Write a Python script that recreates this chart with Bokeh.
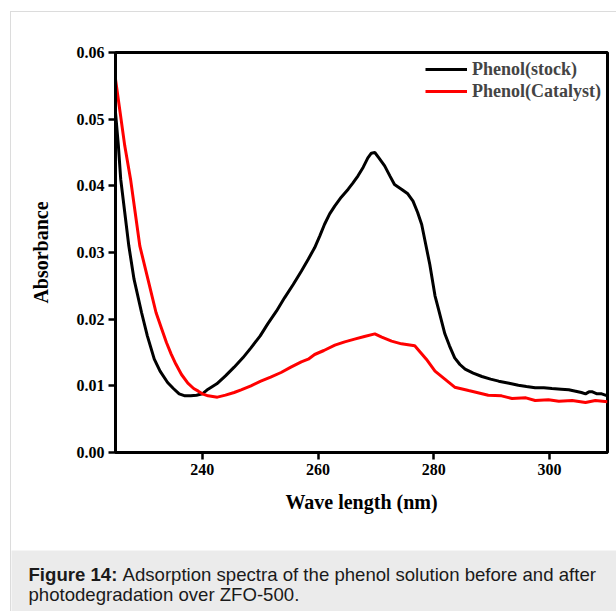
from bokeh.plotting import figure
from bokeh.models import (Legend, LegendItem, Label, FixedTicker,
                          NumeralTickFormatter, Range1d, Spacer)
from bokeh.layouts import column, row
from bokeh.embed import file_html
from bokeh.resources import INLINE

# ---- data ----
stock_wl = [225, 225.5, 225.9, 226.6, 227.3, 228.2, 229.5, 230.5, 231.7, 232.7, 234, 235, 236, 237, 238, 239,
            240, 241, 242.5, 244, 245.5, 247, 248.4, 250, 251.3, 252.8, 254.2, 255.7, 257.1, 258.3, 259.4,
            260.3, 261.1, 262, 262.9, 264, 265.2, 266, 266.9, 267.8, 268.6, 269.2, 269.8, 270.5, 271.5,
            272.4, 273.2, 274.4, 275.5, 276.4, 277.2, 277.9, 278.6, 279.3, 280.2, 280.8, 281.9, 282.7,
            283.6, 284.5, 285.4, 286.8, 288.3, 289.8, 291.2, 293, 294.6, 296, 297.5, 299, 300.4, 302,
            303.3, 304.5, 305.5, 306.2, 306.8, 307.4, 308.2, 309, 310]
stock_abs = [0.051, 0.046, 0.041, 0.036, 0.031, 0.026, 0.021, 0.0175, 0.014, 0.0122, 0.0105, 0.0096, 0.0088,
             0.0085, 0.0085, 0.0086, 0.0088, 0.0095, 0.0103, 0.0115, 0.0128, 0.0142, 0.0157, 0.0175, 0.0193,
             0.0212, 0.0232, 0.0252, 0.0272, 0.029, 0.0307, 0.0325, 0.0342, 0.0358, 0.037, 0.0383, 0.0395,
             0.0404, 0.0415, 0.0428, 0.0442, 0.0449, 0.045, 0.0442, 0.043, 0.0415, 0.0402, 0.0395, 0.0388,
             0.0377, 0.036, 0.0342, 0.0312, 0.0282, 0.0235, 0.0215, 0.0178, 0.016, 0.0142, 0.0132, 0.0125,
             0.0119, 0.0114, 0.011, 0.0107, 0.0104, 0.0101, 0.0099, 0.0097, 0.0097, 0.0096, 0.0095, 0.0094,
             0.0092, 0.009, 0.0088, 0.0091, 0.0091, 0.0088, 0.0088, 0.0085]

cat_wl = [225, 225.8, 226.6, 227.6, 228.4, 229.2, 230.6, 232.0, 233.0, 233.8, 234.6, 235.4, 236.4, 237.5,
          238.5, 239.3, 240, 241, 242.6, 244, 245.5, 246.7, 248.4, 250.1, 251.8, 253.6, 255.3, 257.1, 258.3,
          259.4, 261, 262.9, 264.6, 266.3, 268, 269.8, 271, 272.7, 274.4, 276.7, 277.7, 278.7, 280.2, 281.9,
          283.6, 286, 289.4, 291.7, 293.5, 295.9, 297.5, 299.8, 301.6, 303.9, 306.2, 307.9, 310]
cat_abs = [0.056, 0.051, 0.046, 0.041, 0.036, 0.031, 0.026, 0.021, 0.0185, 0.0165, 0.0148, 0.0133, 0.0117,
           0.0104, 0.0096, 0.0092, 0.0088, 0.0085, 0.0083, 0.0086, 0.009, 0.0094, 0.01, 0.0107, 0.0113, 0.012,
           0.0128, 0.0136, 0.014, 0.0147, 0.0153, 0.0161, 0.0166, 0.017, 0.0174, 0.0178, 0.0173, 0.0167,
           0.0163, 0.016, 0.015, 0.014, 0.0122, 0.011, 0.0098, 0.0093, 0.0086, 0.0085, 0.0081, 0.0082,
           0.0078, 0.0079, 0.0077, 0.0078, 0.0075, 0.0078, 0.0076]

x_ticks = [240, 260, 280, 300]
y_ticks = [0.00, 0.01, 0.02, 0.03, 0.04, 0.05, 0.06]
series_names = ["Phenol(stock)", "Phenol(Catalyst)"]
caption_bold = "Figure 14:"
caption_line1 = "Adsorption spectra of the phenol solution before and after"
caption_line2 = "photodegradation over ZFO-500."

# main chart (placed at x=11, y=12 of the page)
p = figure(width=605, height=538, output_backend="svg", toolbar_location=None,
           x_range=Range1d(225, 310), y_range=Range1d(0, 0.06),
           min_border_left=104, min_border_right=9, min_border_top=40, min_border_bottom=98)
p.grid.visible = False
p.background_fill_color = "white"
p.border_fill_color = "white"
p.outline_line_color = "black"
p.outline_line_width = 3

FONT = "Liberation Serif"
for ax in (p.xaxis[0], p.yaxis[0]):
    ax.axis_line_width = 3
    ax.major_tick_line_width = 2.5
    ax.major_tick_in = 0
    ax.major_tick_out = 7
    ax.minor_tick_line_color = None
    ax.major_label_text_font = FONT
    ax.major_label_text_font_style = "bold"
    ax.major_label_text_font_size = "16px"
    ax.major_label_text_color = "black"
    ax.axis_label_text_font = FONT
    ax.axis_label_text_font_style = "bold"
    ax.axis_label_text_font_size = "20px"
    ax.axis_label_text_color = "black"

p.xaxis.ticker = FixedTicker(ticks=x_ticks)
p.yaxis.ticker = FixedTicker(ticks=y_ticks)
p.yaxis.formatter = NumeralTickFormatter(format="0.00")
p.xaxis.axis_label = "Wave length (nm)"
p.yaxis.axis_label = "Absorbance"
p.xaxis.major_label_standoff = 4
p.xaxis.axis_label_standoff = 13
p.yaxis.major_label_standoff = 4
p.yaxis.axis_label_standoff = 22

r1 = p.line(stock_wl, stock_abs, line_color="black", line_width=3)
r2 = p.line(cat_wl, cat_abs, line_color="#ff0000", line_width=3)

legend = Legend(items=[LegendItem(label=series_names[0], renderers=[r1]),
                       LegendItem(label=series_names[1], renderers=[r2])],
                location="top_right")
legend.label_text_font = FONT
legend.label_text_font_style = "bold"
legend.label_text_font_size = "18px"
legend.glyph_width = 42
legend.label_standoff = 5
legend.spacing = 0
legend.padding = 3
legend.margin = 3
legend.border_line_alpha = 0
legend.background_fill_alpha = 0
legend.label_height = 22
legend.glyph_height = 22
p.add_layout(legend)

# caption band; x/y data = pixels inside the band
cap = figure(width=605, height=61, output_backend="svg", toolbar_location=None,
             x_range=Range1d(0, 605), y_range=Range1d(61, 0),
             min_border=0, x_axis_type=None, y_axis_type=None)
cap.grid.visible = False
cap.outline_line_color = None
cap.background_fill_color = "#ebebeb"
cap.border_fill_color = "#ebebeb"

CAP = "Liberation Sans"
CAP_SIZE = "18.6px"
cap.add_layout(Label(x=17, y=23.5, text=caption_bold, text_font=CAP, text_font_style="bold",
                     text_font_size=CAP_SIZE, text_baseline="middle", text_color="#1a1a1a"))
cap.add_layout(Label(x=111, y=23.5, text=caption_line1, text_font=CAP,
                     text_font_size=CAP_SIZE, text_baseline="middle", text_color="#1a1a1a"))
cap.add_layout(Label(x=17, y=44, text=caption_line2, text_font=CAP,
                     text_font_size=CAP_SIZE, text_baseline="middle", text_color="#1a1a1a"))

inner = column(p, row(cap, spacing=0), spacing=0)
inner.styles = {"border-top": "1px solid #dcdcdc", "border-left": "1px solid #dcdcdc"}
layout = column(Spacer(width=616, height=11),
                row(Spacer(width=10, height=599), inner, spacing=0), spacing=0)

open("out.html", "w").write(file_html(layout, INLINE))
